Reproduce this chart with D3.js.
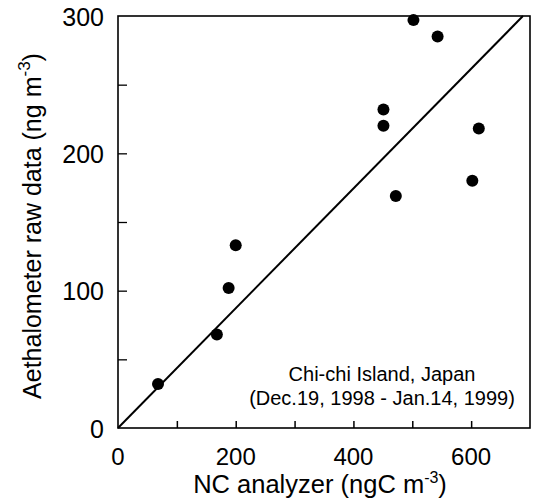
<!DOCTYPE html>
<html>
<head>
<meta charset="utf-8">
<script src="https://cdn.jsdelivr.net/npm/d3@7"></script>
<style>
  body { margin: 0; background: #fff; }
  svg { font-family: "Liberation Sans", Arial, sans-serif; }
</style>
</head>
<body>
<script>
// ---- data ----
var ncAnalyzer  = [68, 168, 188, 200, 451, 451, 472, 502, 543, 602, 613];
var aethalometer = [32, 68, 102, 133, 220, 232, 169, 297, 285, 180, 218];
var xTickLabels = [0, 200, 400, 600];
var yTickLabels = [0, 100, 200, 300];
var slope = 0.436;          // fitted line through origin
var lineEndX = 688;
var noteLines = ["Chi-chi Island, Japan", "(Dec.19, 1998 - Jan.14, 1999)"];

var W = 535, H = 503;
var margin = {left: 118, right: 5, top: 16, bottom: 75};
var width = W - margin.left - margin.right,
    height = H - margin.top - margin.bottom;

var svg = d3.select("body").append("svg")
    .attr("width", W).attr("height", H)
  .append("g")
    .attr("transform", "translate(" + margin.left + "," + margin.top + ")");

var x = d3.scaleLinear().domain([0, 700]).range([0, 412]);
var y = d3.scaleLinear().domain([0, 300]).range([height, 0]);

// frame
svg.append("rect")
    .attr("x", 0).attr("y", 0)
    .attr("width", x(700)).attr("height", height)
    .attr("fill", "none").attr("stroke", "#000").attr("stroke-width", 1.6);

// inward ticks
svg.append("g")
    .attr("transform", "translate(0," + height + ")")
    .call(d3.axisTop(x).tickValues(d3.range(100, 700, 100)).tickSize(7).tickFormat(""))
    .call(function(g) { g.select(".domain").remove(); g.selectAll("line").attr("stroke-width", 1.5); });

svg.append("g")
    .call(d3.axisRight(y).tickValues(d3.range(50, 300, 50)).tickSize(9).tickFormat(""))
    .call(function(g) { g.select(".domain").remove(); g.selectAll("line").attr("stroke-width", 1.3); });

// tick labels
svg.selectAll(".xl").data(xTickLabels).join("text")
    .attr("x", function(d) { return x(d); })
    .attr("y", height + 37)
    .attr("text-anchor", "middle")
    .style("font-size", "24px")
    .text(function(d) { return d; });

svg.selectAll(".yl").data(yTickLabels).join("text")
    .attr("x", -14)
    .attr("y", function(d) { return y(d); })
    .attr("dy", "0.38em")
    .attr("text-anchor", "end")
    .style("font-size", "25px")
    .text(function(d) { return d; });

// axis titles
var xt = svg.append("text")
    .attr("x", x(350) - 4)
    .attr("y", height + 65)
    .attr("text-anchor", "middle")
    .style("font-size", "25.5px");
xt.append("tspan").text("NC analyzer (ngC m");
xt.append("tspan").attr("dy", -10).style("font-size", "16px").text("-3");
xt.append("tspan").attr("dy", 10).text(")");

var yt = svg.append("text")
    .attr("transform", "translate(-77," + (height / 2 + 4) + ") rotate(-90)")
    .attr("text-anchor", "middle")
    .style("font-size", "25px");
yt.append("tspan").text("Aethalometer raw data (ng m");
yt.append("tspan").attr("dy", -11).style("font-size", "17px").text("-3");
yt.append("tspan").attr("dy", 11).text(")");

// fit line through origin
svg.append("line")
    .attr("x1", x(0)).attr("y1", y(0))
    .attr("x2", x(lineEndX)).attr("y2", y(slope * lineEndX))
    .attr("stroke", "#000").attr("stroke-width", 2);

// points
svg.selectAll(".pt").data(ncAnalyzer).join("circle")
    .attr("cx", function(d) { return x(d); })
    .attr("cy", function(d, i) { return y(aethalometer[i]); })
    .attr("r", 6)
    .attr("fill", "#000");

// annotation
svg.selectAll(".note").data(noteLines).join("text")
    .attr("x", 264)
    .attr("y", function(d, i) { return 365 + i * 24; })
    .attr("text-anchor", "middle")
    .style("font-size", "20px")
    .text(function(d) { return d; });
</script>
</body>
</html>
